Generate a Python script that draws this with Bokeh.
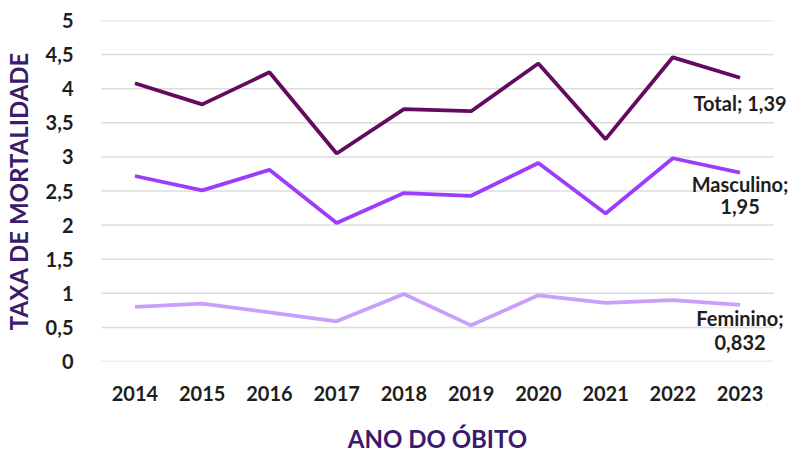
from bokeh.plotting import figure
from bokeh.models import FactorRange, Range1d, FixedTicker, LabelSet, ColumnDataSource
from bokeh.core.properties import value
from bokeh.embed import file_html
from bokeh.resources import INLINE

years = ["2014", "2015", "2016", "2017", "2018", "2019", "2020", "2021", "2022", "2023"]
total = [4.08, 3.77, 4.24, 3.05, 3.70, 3.67, 4.37, 3.26, 4.46, 4.16]
masculino = [2.72, 2.51, 2.81, 2.03, 2.47, 2.43, 2.91, 2.17, 2.98, 2.77]
feminino = [0.80, 0.85, 0.72, 0.59, 0.99, 0.53, 0.97, 0.86, 0.90, 0.83]
y_ticks = [0, 0.5, 1, 1.5, 2, 2.5, 3, 3.5, 4, 4.5, 5]
y_tick_labels = ["0", "0,5", "1", "1,5", "2", "2,5", "3", "3,5", "4", "4,5", "5"]
label_texts = ["Total; 1,39", "Masculino;", "1,95", "Feminino;", "0,832"]
label_years = ["2023", "2023", "2023", "2023", "2023"]
label_values = [3.79, 2.60, 2.28, 0.64, 0.28]

FONT = "Lato"

x_range = FactorRange(*years, range_padding=0.31, range_padding_units="absolute")
p = figure(width=794, height=455, x_range=x_range, y_range=Range1d(0, 5),
           output_backend="svg", toolbar_location=None,
           min_border_left=76, min_border_right=0, min_border_top=20, min_border_bottom=91)
p.outline_line_color = None
p.background_fill_color = "white"
p.border_fill_color = "white"

# horizontal gridlines spanning only the category band (first to last category)
n = len(y_ticks)
p.segment(x0=[(years[0], -0.5)] * n, x1=[(years[-1], 0.5)] * n, y0=y_ticks, y1=y_ticks,
          line_color="#dcdcdc", line_width=1.5)

p.line(years, total, line_color="#630b61", line_width=3.8)
p.line(years, masculino, line_color="#9e3cfc", line_width=3.8)
p.line(years, feminino, line_color="#c8a0fa", line_width=3.8)

src = ColumnDataSource(dict(x=label_years, y=label_values, t=label_texts))
labels = LabelSet(x="x", y="y", text="t", source=src, text_align="center",
                  text_baseline="middle", text_font=value(FONT), text_font_style="bold",
                  text_font_size="20px", text_color="#1e1e1e")
p.add_layout(labels)

p.xgrid.grid_line_color = None
p.ygrid.grid_line_color = None
p.yaxis.ticker = FixedTicker(ticks=y_ticks)
p.yaxis.major_label_overrides = {t: l for t, l in zip(y_ticks, y_tick_labels)}

for ax in (p.xaxis, p.yaxis):
    ax.axis_line_color = None
    ax.major_tick_line_color = None
    ax.minor_tick_line_color = None
    ax.major_label_text_font = FONT
    ax.major_label_text_font_style = "bold"
    ax.major_label_text_font_size = "20px"
    ax.major_label_text_color = "#1e1e1e"
    ax.axis_label_text_font = FONT
    ax.axis_label_text_font_style = "bold"
    ax.axis_label_text_font_size = "24px"
    ax.axis_label_text_color = "#3c1a6c"

p.xaxis.axis_label = "ANO DO ÓBITO"
p.yaxis.axis_label = "TAXA DE MORTALIDADE"
p.xaxis.major_label_standoff = 18
p.xaxis.axis_label_standoff = 20
p.yaxis.major_label_standoff = 1
p.yaxis.axis_label_standoff = 10

open("out.html", "w").write(file_html(p, INLINE))
